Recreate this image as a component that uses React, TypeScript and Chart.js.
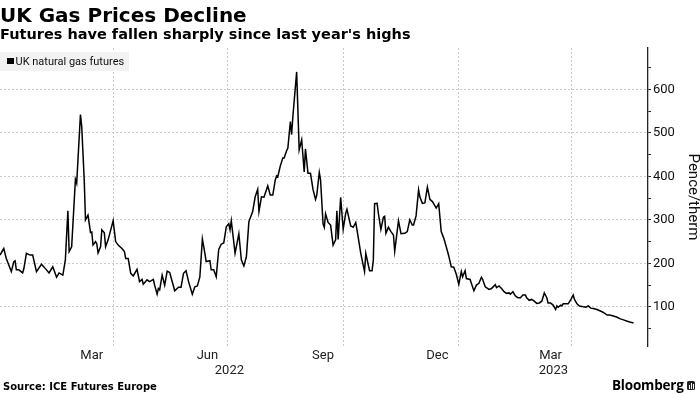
import React, { useEffect, useRef } from 'react';
import { Chart, registerables } from 'chart.js';

Chart.register(...registerables);

// Day 0 = 2022-01-01 (calendar days since that date)
const START_DATE = '2022-01-01';

const dayOffsets = [
  0, 3, 5, 9, 11, 12, 13, 15, 18, 19, 21, 24, 26, 29, 33, 37, 39, 42, 45, 47,
  50, 52, 54, 55, 57, 60, 61, 64, 65, 67, 68, 70, 72, 73, 74, 76, 77, 78, 80, 81,
  83, 84, 86, 90, 92, 94, 97, 99, 100, 102, 104, 106, 109, 111, 113, 114, 117, 119, 122, 123,
  125, 126, 127, 129, 131, 133, 135,
  139, 142, 144, 146, 148, 150, 153, 155, 157, 159, 161, 163, 164, 167, 168, 170, 172, 174, 176, 178,
  180, 182, 183, 184, 187, 190, 192, 194, 196, 198, 201, 203, 205, 206, 208, 210, 213, 215, 217, 219,
  220, 221, 223, 225, 226, 228, 229, 231, 232, 233, 236, 238, 240, 242, 243, 245, 247, 249, 251, 252,
  254, 255, 257, 258, 259, 261, 263,
  265, 267, 268, 269, 271, 272, 273, 275, 276, 279, 281, 283, 284, 287, 290, 291, 294, 296, 297, 298,
  300, 301, 303, 305, 306, 307, 309, 311, 313, 314, 317, 319, 322, 324, 326, 328, 329, 331, 333, 334,
  336, 338, 340, 342, 344, 345, 347, 349, 351, 353, 355, 357, 359, 361, 363, 365, 367, 368, 370, 371,
  374, 375, 377, 379, 381, 383, 384, 386, 389,
  391, 394, 395, 397, 399, 401, 403, 405, 406, 408, 410, 412, 414, 416, 418, 419, 421, 423, 425, 427,
  429, 431, 433, 435, 436, 438, 440, 442, 443, 444, 446, 447, 448, 450, 452, 454, 456, 457, 459, 461,
  464, 466, 468, 470, 472, 475, 478, 480, 483, 485, 488, 491, 493, 496, 499, 501, 504,
];

const prices = [
  219, 234, 211, 181, 204, 206, 185, 185, 178, 188, 223, 219, 219, 181, 198, 185, 178, 192, 168, 178,
  173, 208, 321, 227, 238, 393, 384, 542, 515, 392, 300, 311, 271, 272, 242, 250, 245, 224, 238, 277,
  270, 238, 254, 298, 250, 242, 234, 227, 211, 211, 177, 171, 186, 158, 163, 152, 162, 158, 163, 150,
  129, 142, 139, 173, 150, 182, 179,
  137, 145, 145, 177, 183, 158, 129, 146, 148, 169, 256, 223, 204, 206, 185, 185, 169, 232, 244, 247,
  284, 291, 277, 298, 223, 268, 208, 194, 215, 296, 319, 353, 370, 319, 353, 352, 378, 357, 357, 392,
  401, 399, 424, 442, 442, 459, 465, 526, 496, 538, 640, 461, 484, 410, 463, 407, 407, 370, 347, 357,
  409, 392, 291, 283, 314, 294, 288,
  242, 254, 321, 255, 352, 315, 278, 315, 324, 286, 283, 294, 277, 223, 181, 223, 183, 183, 208, 337,
  338, 315, 278, 306, 308, 269, 283, 273, 265, 228, 298, 268, 269, 273, 300, 288, 288, 309, 369, 353,
  338, 339, 375, 347, 342, 337, 327, 337, 273, 258, 238, 217, 192, 191, 175, 152, 181, 169, 183, 165,
  163, 154, 137, 150, 154, 168, 163, 146, 140,
  142, 151, 144, 148, 142, 135, 131, 132, 129, 135, 125, 121, 121, 127, 127, 121, 115, 117, 113, 108,
  109, 113, 132, 121, 109, 109, 104, 94, 102, 99, 104, 102, 107, 107, 107, 116, 127, 117, 107, 102,
  100, 99, 102, 97, 96, 94, 90, 87, 81, 81, 79, 76, 73, 70, 67, 65, 63,
];

// Quarter starts: 2022-04-01, 2022-07-01, 2022-10-01, 2023-01-01, 2023-04-01
const quarterStartDays = [90, 181, 273, 365, 455];
// Mid-month label positions: Mar 15, Jun 15, Sep 15, Dec 15 2022, Mar 15 2023
const monthTickDays = [73, 165, 257, 348, 438];
const monthTickLabels = ['Mar', 'Jun', 'Sep', 'Dec', 'Mar'];
const yearStartDays = [0, 365];
const yearLabels = ['2022', '2023'];

const X_MIN = 0;
const X_MAX = 515.5;
const Y_MIN = 10;
const Y_MAX = 695;
const yMajorTicks = [100, 200, 300, 400, 500, 600];
const yMinorTicks = [50, 150, 250, 350, 450, 550, 650];

const SERIES_NAME = 'UK natural gas futures';

export default function App() {
  const canvasRef = useRef<HTMLCanvasElement | null>(null);

  useEffect(() => {
    const canvas = canvasRef.current;
    if (!canvas) return;

    const xLabelMap = new Map<number, string | string[]>();
    monthTickDays.forEach((d, i) => xLabelMap.set(d, monthTickLabels[i]));
    const yearMidDays = yearStartDays.map((d, i) => {
      const s = Math.max(X_MIN, d);
      const e = Math.min(X_MAX, i + 1 < yearStartDays.length ? yearStartDays[i + 1] : X_MAX);
      return (s + e) / 2;
    });
    yearMidDays.forEach((d, i) => xLabelMap.set(d, ['', yearLabels[i]]));
    const quarterSet = new Set(quarterStartDays);
    const xTickValues = [...quarterStartDays, ...monthTickDays, ...yearMidDays].sort((a, b) => a - b);

    const yMajorSet = new Set(yMajorTicks);
    const yTickValues = [...yMajorTicks, ...yMinorTicks].sort((a, b) => a - b);

    const gridColor = '#c9c9c9';

    const chart = new Chart(canvas, {
      type: 'line',
      data: {
        datasets: [
          {
            label: SERIES_NAME,
            data: dayOffsets.map((d, i) => ({ x: d, y: prices[i] })),
            borderColor: '#000000',
            borderWidth: 1.5,
            pointRadius: 0,
            tension: 0,
            fill: false,
          },
        ],
      },
      options: {
        animation: false,
        responsive: false,
        maintainAspectRatio: false,
        layout: { padding: { top: 48, left: 0, right: 0, bottom: 0 } },
        plugins: {
          legend: { display: false },
          tooltip: { enabled: false },
        },
        scales: {
          x: {
            type: 'linear',
            position: 'bottom',
            min: X_MIN,
            max: X_MAX,
            afterBuildTicks: (s: any) => {
              s.ticks = xTickValues.map((v) => ({ value: v }));
            },
            afterFit: (s: any) => {
              s.height = 48;
              s.paddingLeft = 0;
              s.paddingRight = 0;
            },
            ticks: {
              autoSkip: false,
              maxRotation: 0,
              minRotation: 0,
              padding: 2,
              color: '#222',
              font: { family: 'Roboto', size: 13, lineHeight: '15px' },
              callback: (v: any) => {
                const l = xLabelMap.get(Number(v));
                return l === undefined ? '' : l;
              },
            },
            grid: {
              color: (ctx: any) => (ctx.tick && quarterSet.has(ctx.tick.value) ? gridColor : 'rgba(0,0,0,0)'),
              lineWidth: 1,
              drawTicks: false,
            },
            border: { display: false, dash: [2, 2] },
          },
          y: {
            type: 'linear',
            position: 'right',
            min: Y_MIN,
            max: Y_MAX,
            afterBuildTicks: (s: any) => {
              s.ticks = yTickValues.map((v) => ({ value: v }));
            },
            afterFit: (s: any) => {
              s.width = 52;
              s.paddingTop = 0;
              s.paddingBottom = 0;
            },
            ticks: {
              padding: 2,
              color: '#111',
              font: { family: 'Roboto', size: 13 },
              callback: (v: any) => (yMajorSet.has(Number(v)) ? String(v) : ''),
            },
            grid: {
              color: (ctx: any) => (ctx.tick && yMajorSet.has(ctx.tick.value) ? gridColor : 'rgba(0,0,0,0)'),
              lineWidth: 1,
              drawTicks: true,
              tickLength: 3,
              tickWidth: 1,
              tickColor: '#222',
              tickBorderDash: [],
            },
            border: { display: true, color: '#222', width: 1.3, dash: [2, 2] },
            title: {
              display: true,
              text: 'Pence/therm',
              color: '#111',
              font: { family: 'Roboto', size: 15, lineHeight: 1 },
              padding: { top: 0, bottom: 0 },
            },
          },
        },
      } as any,
    });

    return () => chart.destroy();
  }, []);

  return (
    <div
      style={{
        position: 'absolute',
        left: 0,
        top: 0,
        width: 700,
        height: 394,
        background: '#fff',
        overflow: 'hidden',
        fontFamily: 'Roboto, sans-serif',
      }}
    >
      <canvas ref={canvasRef} width={700} height={394} style={{ position: 'absolute', left: 0, top: 0 }} />
      <div
        style={{
          position: 'absolute',
          left: 0,
          top: 5,
          fontFamily: '"DejaVu Sans", sans-serif',
          fontWeight: 700,
          fontSize: 20,
          lineHeight: '20px',
          color: '#000',
          whiteSpace: 'nowrap',
        }}
      >
        UK Gas Prices Decline
      </div>
      <div
        style={{
          position: 'absolute',
          left: 0,
          top: 27,
          fontFamily: '"DejaVu Sans", sans-serif',
          fontWeight: 700,
          fontSize: 14.5,
          lineHeight: '14.5px',
          color: '#000',
          whiteSpace: 'nowrap',
        }}
      >
        Futures have fallen sharply since last year's highs
      </div>
      <div
        style={{
          position: 'absolute',
          left: 0,
          top: 52,
          width: 129,
          height: 19,
          background: '#f2f2f2',
        }}
      >
        <div style={{ position: 'absolute', left: 7, top: 5.5, width: 6.5, height: 6.5, background: '#000' }} />
        <div
          style={{
            position: 'absolute',
            left: 15.5,
            top: 0,
            fontFamily: 'Roboto, sans-serif',
            fontSize: 11,
            lineHeight: '19px',
            color: '#111',
            whiteSpace: 'nowrap',
          }}
        >
          {SERIES_NAME}
        </div>
      </div>
      <div
        style={{
          position: 'absolute',
          left: 3,
          top: 381.5,
          fontFamily: '"DejaVu Sans", sans-serif',
          fontWeight: 700,
          fontSize: 10,
          lineHeight: '10px',
          color: '#000',
          whiteSpace: 'nowrap',
        }}
      >
        Source: ICE Futures Europe
      </div>
      <div
        style={{
          position: 'absolute',
          left: 612,
          top: 378,
          fontFamily: '"Open Sans", sans-serif',
          fontWeight: 700,
          fontSize: 13.5,
          lineHeight: '14px',
          color: '#000',
          whiteSpace: 'nowrap',
          letterSpacing: '-0.2px',
        }}
      >
        Bloomberg
      </div>
      <div
        style={{
          position: 'absolute',
          left: 687,
          top: 381,
          width: 8,
          height: 9,
          background: '#222',
          borderRadius: 1.5,
        }}
      >
        <div style={{ position: 'absolute', left: 1.5, top: 4, width: 1, height: 4, background: '#fff' }} />
        <div style={{ position: 'absolute', left: 3.5, top: 2, width: 1, height: 6, background: '#fff' }} />
        <div style={{ position: 'absolute', left: 5.5, top: 3, width: 1, height: 5, background: '#fff' }} />
      </div>
    </div>
  );
}
